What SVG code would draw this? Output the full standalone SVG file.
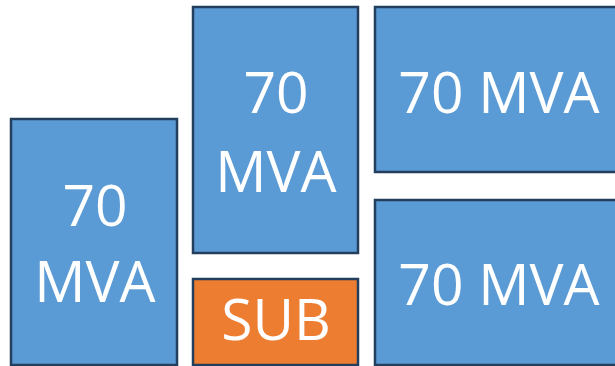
<svg xmlns="http://www.w3.org/2000/svg" width="615" height="366" viewBox="0 0 615 366">
<style>
.b{fill:#5B9BD5;stroke:#243F5E;stroke-width:2.5}
.o{fill:#ED7D31;stroke:#243F5E;stroke-width:2.5}
text{font-family:"Open Sans","Liberation Sans",sans-serif;font-size:57px;fill:#FFFFFF;text-anchor:middle}
</style>
<rect width="615" height="366" fill="#FFFFFF"/>
<g id="left">
<rect class="b" x="11" y="119" width="166" height="246"/>
<text x="95" y="226">70</text>
<text x="95" y="302">MVA</text>
</g>
<g id="midtop">
<rect class="b" x="193" y="7" width="165" height="246"/>
<text x="276" y="113">70</text>
<text x="276" y="192">MVA</text>
</g>
<g id="sub">
<rect class="o" x="193" y="279" width="165" height="86"/>
<text x="276" y="340">SUB</text>
</g>
<g id="righttop">
<rect class="b" x="375" y="7" width="250" height="165"/>
<text x="499" y="113">70 MVA</text>
</g>
<g id="rightbottom">
<rect class="b" x="375" y="200" width="250" height="165"/>
<text x="499" y="305">70 MVA</text>
</g>
<g id="connectors"/>
</svg>
